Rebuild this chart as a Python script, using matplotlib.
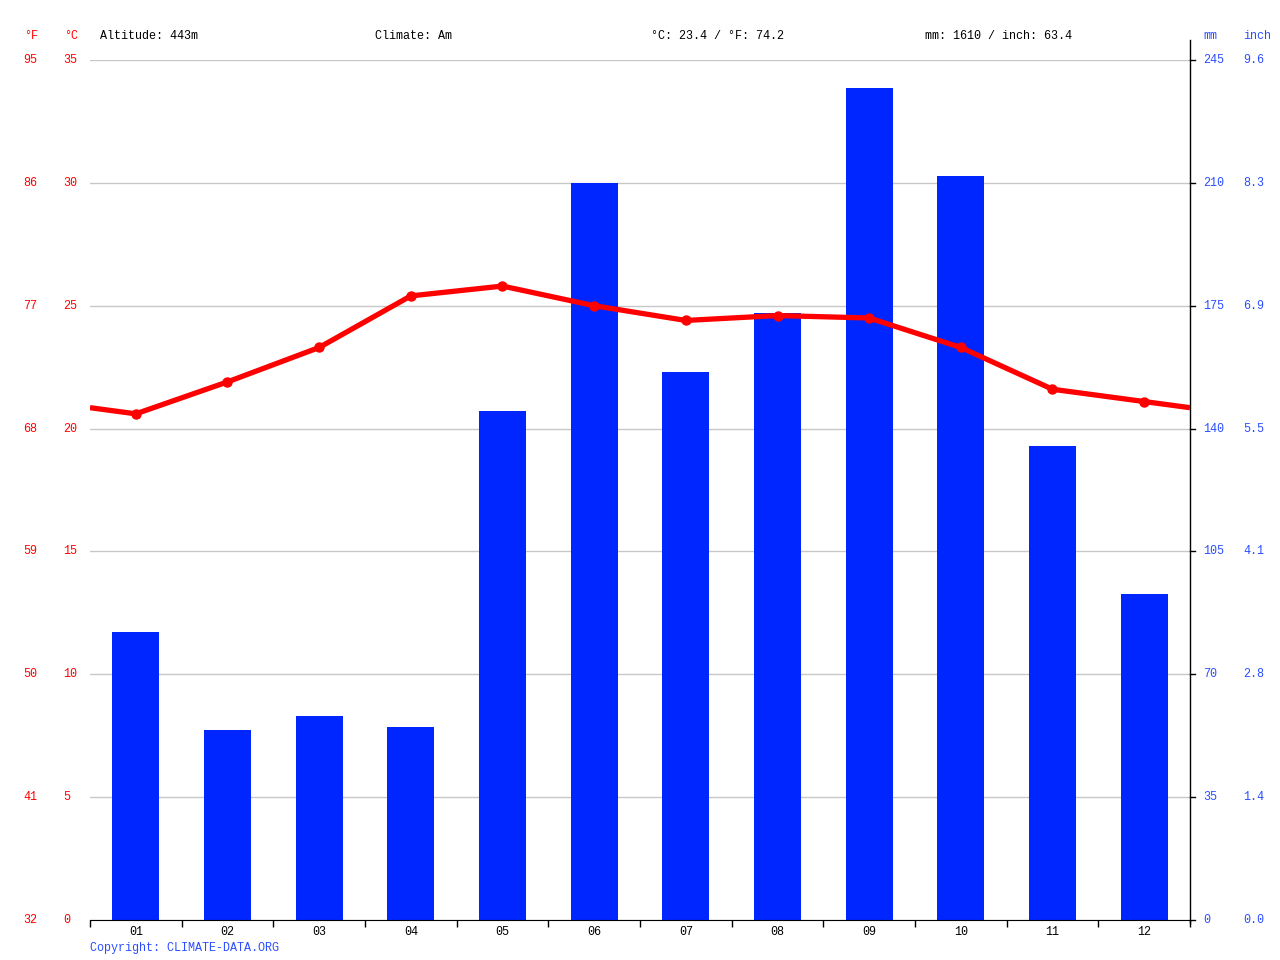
import matplotlib.pyplot as plt
import matplotlib.transforms as mtransforms
import numpy as np

plt.rcParams['font.family'] = ['Liberation Mono', 'DejaVu Sans Mono']

months = ['01', '02', '03', '04', '05', '06', '07', '08', '09', '10', '11', '12']
precip_mm = [82, 54, 58, 55, 145, 210, 156, 173, 237, 212, 135, 93]
temp_c = [20.6, 21.9, 23.3, 25.4, 25.8, 25.0, 24.4, 24.6, 24.5, 23.3, 21.6, 21.1]

c_ticks = [0, 5, 10, 15, 20, 25, 30, 35]
f_labels = ['32', '41', '50', '59', '68', '77', '86', '95']
mm_ticks = [0, 35, 70, 105, 140, 175, 210, 245]
inch_labels = ['0.0', '1.4', '2.8', '4.1', '5.5', '6.9', '8.3', '9.6']

RED = '#ff0000'
BLUE = '#0026ff'
TXT_BLUE = '#2a4dff'
FS = 8.5

fig = plt.figure(figsize=(12.8, 9.6), dpi=100)
W, H = 1280, 960
ax = fig.add_axes([90 / W, 1 - 920 / H, 1100 / W, 860 / H])  # precip axes
ax2 = ax.twinx()  # temperature axes

ax.set_xlim(-0.5, 11.5)
ax.set_ylim(0, 245)
ax2.set_ylim(0, 35)

ax.bar(range(12), precip_mm, width=0.51, color=BLUE, zorder=2)

# temperature line, extended to the edges with the Dec/Jan average
edge = (temp_c[0] + temp_c[-1]) / 2
xs = [-0.5] + list(range(12)) + [11.5]
ys = [edge] + temp_c + [edge]
ax2.plot(xs, ys, color=RED, lw=3.8, solid_capstyle='butt', zorder=3)
ax2.plot(range(12), temp_c, 'o', color=RED, ms=6.5, zorder=4)

# grid
ax.set_yticks(mm_ticks)
ax.grid(axis='y', color='#c8c8c8', lw=1, zorder=0)
ax.set_axisbelow(True)
ax2.set_yticks(c_ticks)

for a in (ax, ax2):
    for s in ['left', 'top', 'right']:
        a.spines[s].set_visible(False)
ax2.spines['bottom'].set_visible(False)
ax.spines['bottom'].set_color('black')

ax.tick_params(axis='y', which='both', left=False, right=False, labelleft=False, labelright=False)
ax2.tick_params(axis='y', which='both', left=False, right=False, labelleft=False, labelright=False)

# x ticks: labels at centres, tick marks at month boundaries
ax.set_xticks(range(12))
ax.set_xticklabels(months, fontsize=FS)
ax.tick_params(axis='x', which='major', length=0, pad=4)
ax.set_xticks(np.arange(-0.5, 12, 1), minor=True)
ax.tick_params(axis='x', which='minor', length=5, width=1, direction='out')

# right spine, extending above and below the plot
ax.plot([1, 1], [-0.004, 1.023], transform=ax.transAxes, color='black', lw=1, clip_on=False)
for m in mm_ticks:
    ax.plot([1, 1.005], [m, m], transform=ax.get_yaxis_transform(), color='black', lw=1, clip_on=False)

# y labels
off = mtransforms.offset_copy
tr2 = ax2.get_yaxis_transform()
tr1 = ax.get_yaxis_transform()
for c, f in zip(c_ticks, f_labels):
    ax2.text(0, c, str(c), transform=off(tr2, fig=fig, x=-27, y=0, units='dots'),
             color=RED, fontsize=FS, ha='left', va='center')
    ax2.text(0, c, f, transform=off(tr2, fig=fig, x=-67, y=0, units='dots'),
             color=RED, fontsize=FS, ha='left', va='center')
for m, i in zip(mm_ticks, inch_labels):
    ax.text(1, m, str(m), transform=off(tr1, fig=fig, x=13, y=0, units='dots'),
            color=TXT_BLUE, fontsize=FS, ha='left', va='center')
    ax.text(1, m, i, transform=off(tr1, fig=fig, x=53, y=0, units='dots'),
            color=TXT_BLUE, fontsize=FS, ha='left', va='center')

# header
hy = 1 - 36 / H
fig.text(24 / W, hy, '°F', color=RED, fontsize=FS, va='center')
fig.text(64 / W, hy, '°C', color=RED, fontsize=FS, va='center')
fig.text(100 / W, hy, 'Altitude: 443m', color='black', fontsize=FS, va='center')
fig.text(375 / W, hy, 'Climate: Am', color='black', fontsize=FS, va='center')
fig.text(651 / W, hy, '°C: 23.4 / °F: 74.2', color='black', fontsize=FS, va='center')
fig.text(925 / W, hy, 'mm: 1610 / inch: 63.4', color='black', fontsize=FS, va='center')
fig.text(1203 / W, hy, 'mm', color=TXT_BLUE, fontsize=FS, va='center')
fig.text(1243 / W, hy, 'inch', color=TXT_BLUE, fontsize=FS, va='center')

fig.text(90 / W, 1 - 948 / H, 'Copyright: CLIMATE-DATA.ORG', color=TXT_BLUE, fontsize=FS, va='center')

fig.savefig('out.png', dpi=100)
